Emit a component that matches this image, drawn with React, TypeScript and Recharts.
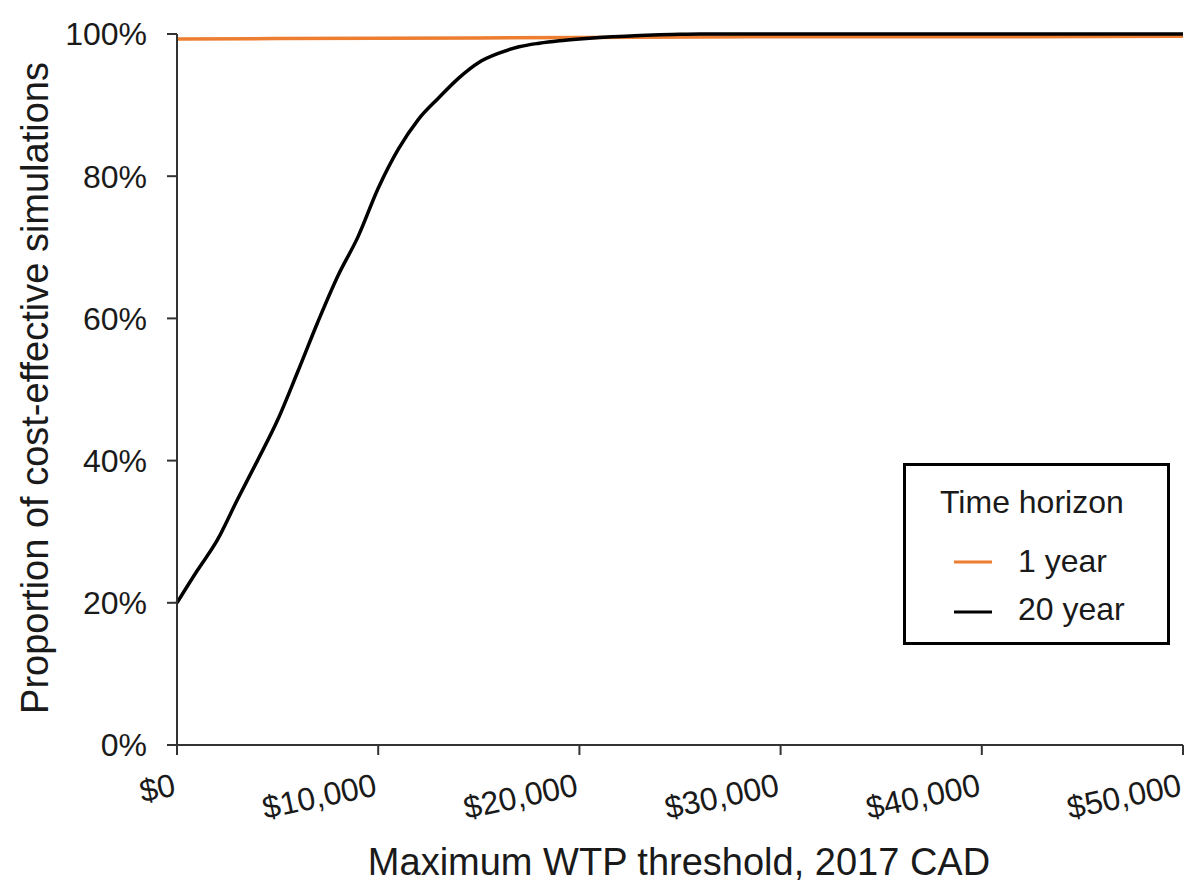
import { LineChart, Line, XAxis, YAxis } from "recharts";

// WTP thresholds (2017 CAD) for the 20 year curve
const thresholds20 = [
  0, 1000, 2000, 3000, 4000, 5000, 6000, 7000, 8000, 9000, 10000, 11000, 12000,
  13000, 14000, 15000, 16000, 17000, 18000, 19000, 20000, 21000, 22000, 23000,
  24000, 25000, 26000, 30000, 35000, 40000, 45000, 50000,
];
const share20 = [
  20, 24.5, 28.8, 34.5, 40, 45.7, 52.5, 59.5, 66, 71.5, 78.3, 83.8, 88, 91,
  93.8, 96, 97.3, 98.2, 98.7, 99.05, 99.3, 99.5, 99.65, 99.8, 99.9, 99.95, 100,
  100, 100, 100, 100, 100,
];

const thresholds1 = [0, 10000, 20000, 30000, 40000, 50000];
const share1 = [99.3, 99.4, 99.5, 99.6, 99.6, 99.7];

const xTicks = [0, 10000, 20000, 30000, 40000, 50000];
const yTicks = [0, 20, 40, 60, 80, 100];

const ORANGE = "#ED7D31";
const INK = "#1a1a1a";
const FONT = "'Liberation Sans', Arial, sans-serif";

const data20 = thresholds20.map((x, i) => ({ x, y: share20[i] }));
const data1 = thresholds1.map((x, i) => ({ x, y: share1[i] }));

const money = (v: number) => "$" + v.toLocaleString("en-US");

function XTick({ x, y, payload }: any) {
  const by = y + 40;
  return (
    <text
      x={x}
      y={by}
      transform={`rotate(-12, ${x}, ${by})`}
      textAnchor="end"
      fontSize={32}
      fontFamily={FONT}
      fill={INK}
    >
      {money(payload.value)}
    </text>
  );
}

export default function App() {
  return (
    <div
      style={{
        position: "absolute",
        left: 0,
        top: 0,
        width: 1186,
        height: 883,
        background: "#fff",
        fontFamily: FONT,
      }}
    >
      <LineChart
        width={1186}
        height={883}
        margin={{ top: 34, right: 3, bottom: 0, left: 0 }}
      >
        <XAxis
          type="number"
          dataKey="x"
          domain={[0, 50000]}
          ticks={xTicks}
          interval={0}
          allowDuplicatedCategory={false}
          height={138}
          stroke="#333"
          strokeWidth={2}
          tickSize={10}
          tickMargin={0}
          tick={<XTick />}
          label={{
            content: () => (
              <text
                x={679}
                y={875}
                textAnchor="middle"
                fontSize={38}
                fontFamily={FONT}
                fill={INK}
              >
                Maximum WTP threshold, 2017 CAD
              </text>
            ),
          }}
        />
        <YAxis
          type="number"
          domain={[0, 100]}
          ticks={yTicks}
          interval={0}
          width={177}
          stroke="#333"
          strokeWidth={2}
          tickSize={10}
          tickMargin={20}
          tickFormatter={(v: number) => `${v}%`}
          tick={{ fontSize: 32, fontFamily: FONT, fill: INK }}
          label={{
            content: () => (
              <text
                x={48}
                y={388}
                transform="rotate(-90, 48, 388)"
                textAnchor="middle"
                fontSize={38}
                fontFamily={FONT}
                fill={INK}
              >
                Proportion of cost-effective simulations
              </text>
            ),
          }}
        />
        <Line
          data={data1}
          dataKey="y"
          name="1 year"
          type="monotone"
          stroke={ORANGE}
          strokeWidth={3.5}
          dot={false}
          isAnimationActive={false}
        />
        <Line
          data={data20}
          dataKey="y"
          name="20 year"
          type="monotone"
          stroke="#000"
          strokeWidth={3.5}
          dot={false}
          isAnimationActive={false}
        />
      </LineChart>

      {/* legend box */}
      <div
        style={{
          position: "absolute",
          left: 903,
          top: 463,
          width: 267,
          height: 182,
          boxSizing: "border-box",
          border: "3px solid #000",
          background: "#fff",
        }}
      >
        <svg width={267} height={182} style={{ position: "absolute", left: -3, top: -3 }}>
          <text x={37} y={50} fontSize={32} fontFamily={FONT} fill={INK}>
            Time horizon
          </text>
          <line x1={51} x2={89} y1={99} y2={99} stroke={ORANGE} strokeWidth={3} />
          <text x={115} y={109} fontSize={32} fontFamily={FONT} fill={INK}>
            1 year
          </text>
          <line x1={51} x2={89} y1={149} y2={149} stroke="#000" strokeWidth={3} />
          <text x={115} y={157} fontSize={32} fontFamily={FONT} fill={INK}>
            20 year
          </text>
        </svg>
      </div>
    </div>
  );
}
